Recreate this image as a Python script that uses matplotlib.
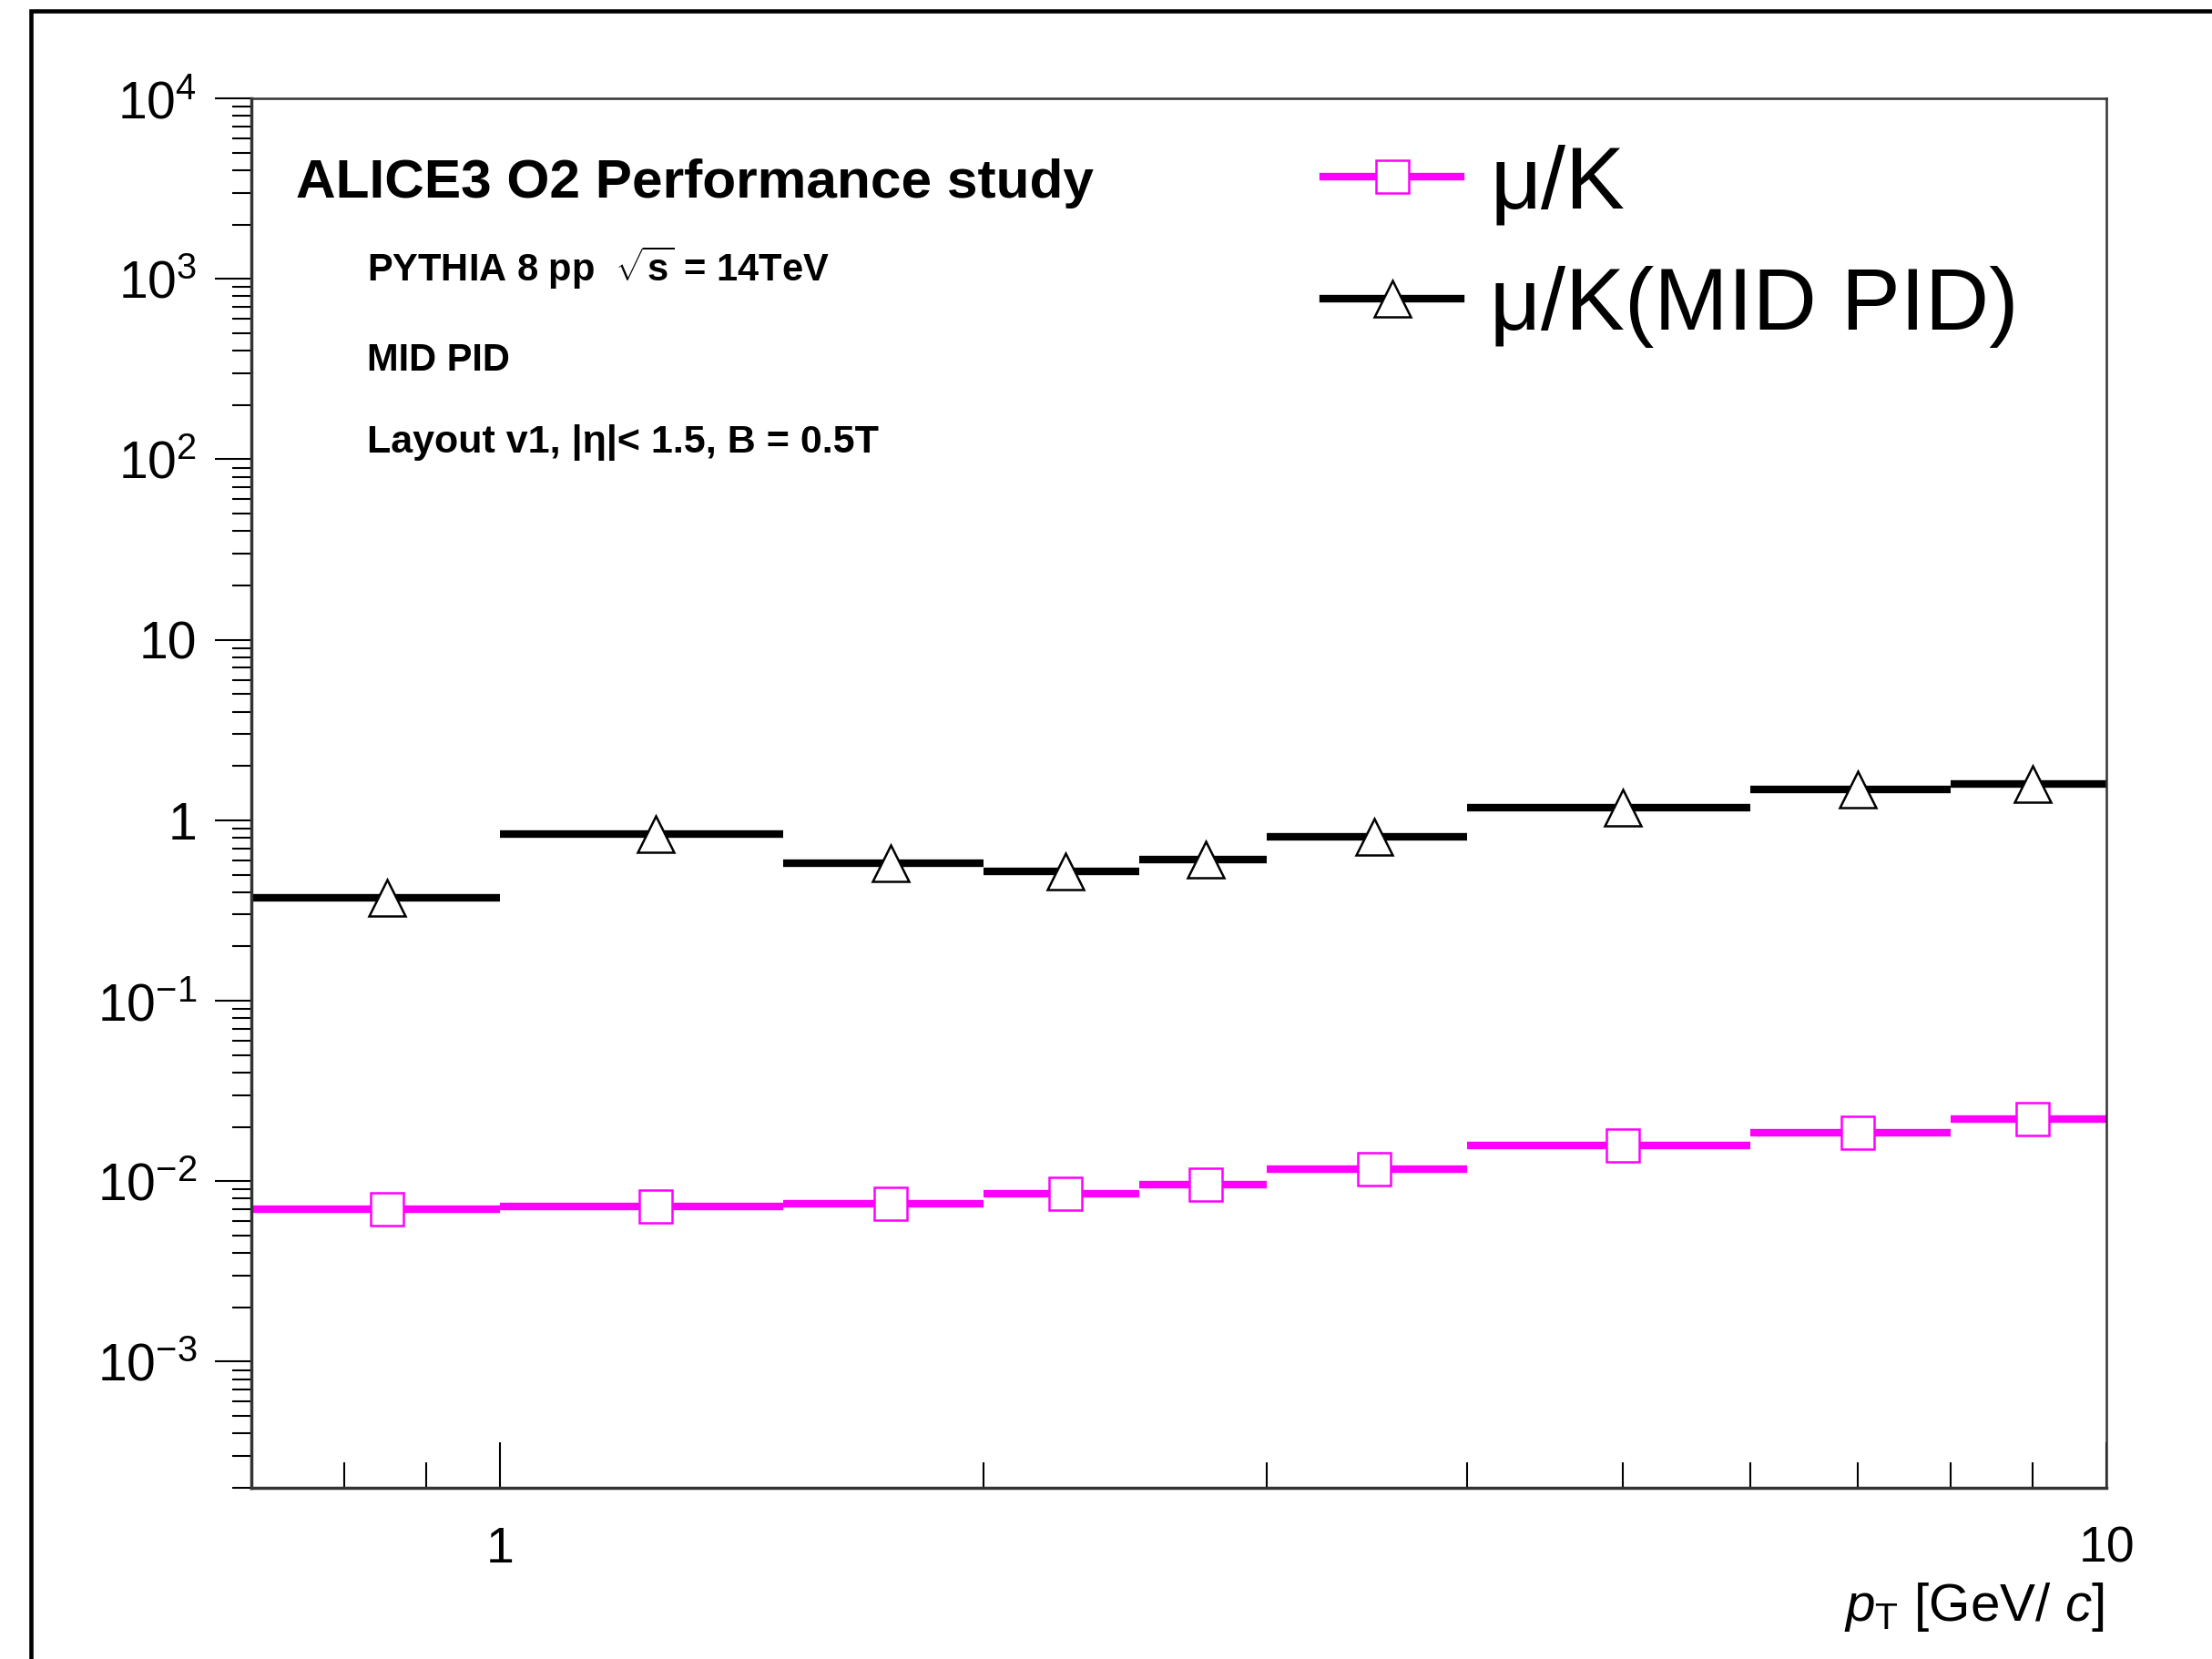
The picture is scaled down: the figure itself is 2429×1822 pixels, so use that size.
import matplotlib.pyplot as plt
import numpy as np
from matplotlib.lines import Line2D
from matplotlib.patches import Rectangle
from matplotlib.ticker import FixedFormatter, FixedLocator, LogLocator, NullFormatter

plt.rcParams["font.family"] = ["Liberation Sans", "DejaVu Sans"]
plt.rcParams["mathtext.fontset"] = "custom"
plt.rcParams["mathtext.rm"] = "Liberation Sans"
plt.rcParams["mathtext.it"] = "Liberation Sans:italic"
plt.rcParams["mathtext.bf"] = "Liberation Sans:bold"

# pT bins [GeV/c]
bin_edges = [0.7, 1.0, 1.5, 2.0, 2.5, 3.0, 4.0, 6.0, 8.0, 10.0]
# mu/K ratio, all tracks
ratio_mu_k = [0.0070, 0.00726, 0.0075, 0.0085, 0.0096, 0.0117, 0.0158, 0.0185, 0.0221]
# mu/K ratio after MID PID
ratio_mu_k_mid = [0.371, 0.84, 0.58, 0.523, 0.607, 0.81, 1.175, 1.475, 1.585]

y_ticks = [1e4, 1e3, 1e2, 10, 1, 0.1, 0.01, 0.001]
y_tick_labels = [r"$10^{4}$", r"$10^{3}$", r"$10^{2}$", "10", "1",
                 r"$10^{-1}$", r"$10^{-2}$", r"$10^{-3}$"]
x_ticks = [1, 10]
x_tick_labels = ["1", "10"]

edges = np.array(bin_edges)
lo, hi = edges[:-1], edges[1:]
centers = 0.5 * (lo + hi)

fig = plt.figure(figsize=(24.29, 18.22), dpi=100)
ax = fig.add_axes([0.1136, 0.1032, 0.8387, 0.8375])
ax.set_xscale("log")
ax.set_yscale("log")

ax.hlines(ratio_mu_k, lo, hi, color="#ff00ff", lw=6, zorder=2)
ax.plot(centers, ratio_mu_k, ls="none", marker="s", ms=26, mfc="white",
        mec="#ff00ff", mew=1.8, zorder=3)
ax.hlines(ratio_mu_k_mid, lo, hi, color="black", lw=6, zorder=2)
ax.plot(centers, ratio_mu_k_mid, ls="none", marker="^", ms=29, mfc="white",
        mec="black", mew=1.8, zorder=3)

ax.set_xlim(0.7, 10)
ax.set_ylim(2e-4, 1e4)

ax.xaxis.set_major_locator(FixedLocator(x_ticks))
ax.xaxis.set_major_formatter(FixedFormatter(x_tick_labels))
ax.xaxis.set_minor_locator(LogLocator(base=10, subs=np.arange(2, 10)))
ax.xaxis.set_minor_formatter(NullFormatter())
ax.yaxis.set_major_locator(FixedLocator(y_ticks))
ax.yaxis.set_major_formatter(FixedFormatter(y_tick_labels))
ax.yaxis.set_minor_locator(LogLocator(base=10, subs=np.arange(2, 10), numticks=20))
ax.yaxis.set_minor_formatter(NullFormatter())

ax.tick_params(axis="x", which="both", direction="in", top=False, width=1.5,
               labelsize=40, pad=30)
ax.tick_params(axis="x", which="major", length=36)
ax.tick_params(axis="x", which="minor", length=20)
ax.tick_params(axis="y", which="both", direction="out", right=False, width=1.5,
               labelsize=41, pad=14)
ax.tick_params(axis="y", which="major", length=29)
ax.tick_params(axis="y", which="minor", length=15)
for side in ["top", "right"]:
    ax.spines[side].set_linewidth(1.8)
    ax.spines[side].set_color("#333333")
for side in ["left", "bottom"]:
    ax.spines[side].set_linewidth(2.5)
    ax.spines[side].set_color("#333333")

ax.text(0.0243, 0.939, "ALICE3 O2 Performance study", transform=ax.transAxes,
        fontsize=43.5, fontweight="bold", va="center", ha="left")
ax.text(0.0624, 0.878, r"PYTHIA 8 pp  $\sqrt{\mathbf{s}}$ = 14TeV", transform=ax.transAxes,
        fontsize=30, fontweight="bold", va="center", ha="left")
ax.text(0.0624, 0.811, "MID PID", transform=ax.transAxes,
        fontsize=30, fontweight="bold", va="center", ha="left")
ax.text(0.0624, 0.752, "Layout v1, |η|< 1.5, B = 0.5T", transform=ax.transAxes,
        fontsize=31, fontweight="bold", va="center", ha="left")

handles = [
    Line2D([], [], color="#ff00ff", lw=6, marker="s", ms=26, mfc="white",
           mec="#ff00ff", mew=1.8),
    Line2D([], [], color="black", lw=6, marker="^", ms=29, mfc="white",
           mec="black", mew=1.8),
]
ax.legend(handles, ["μ/K", "μ/K(MID PID)"], loc="upper left",
          bbox_to_anchor=(0.578, 0.967), frameon=False, fontsize=70,
          handlelength=1.55, handletextpad=0.33, labelspacing=0.45,
          borderpad=0, borderaxespad=0)

fig.text(0.9513, 0.023, r"$p_{\mathrm{T}}$ [GeV/ $c$]", ha="right", va="baseline",
         fontsize=42)

fig.add_artist(Rectangle((34 / 2429, -0.2), 1.2, 0.2 + 1 - 12 / 1822,
                         transform=fig.transFigure, fill=False, lw=3.3,
                         edgecolor="black"))

fig.savefig("out.png", dpi=100)
